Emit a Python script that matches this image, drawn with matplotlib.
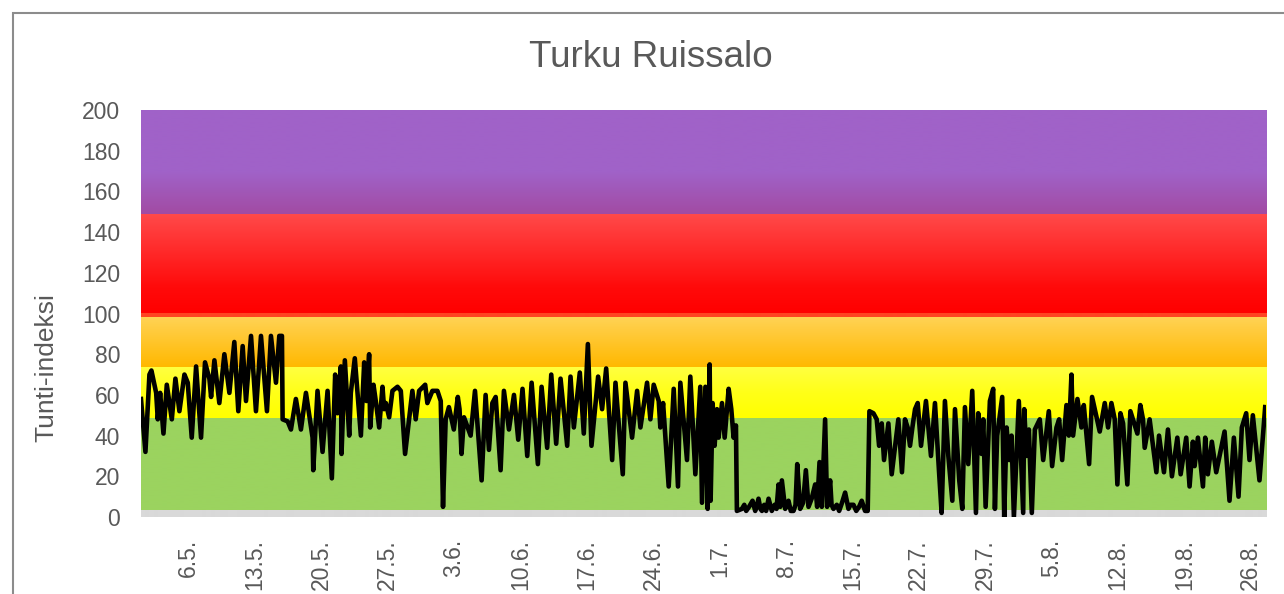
import matplotlib
matplotlib.use('Agg')
import matplotlib.pyplot as plt
import matplotlib.dates as mdates
from matplotlib.colors import LinearSegmentedColormap
from matplotlib.patches import Rectangle
import numpy as np
import pandas as pd

plt.rcParams['font.family'] = ['Liberation Sans', 'DejaVu Sans']

## Tunti-indeksi, paivia alkaen 1.5. klo 00
paiva = [
    0.0, 0.47, 0.89, 1.1, 1.6, 1.77, 2.02, 2.37, 2.72, 3.25, 3.63, 4.05, 4.58, 4.93, 5.35,
    5.81, 6.33, 6.75, 7.21, 7.39, 7.74, 8.26, 8.79, 9.32, 9.84, 10.26, 10.72, 11.07, 11.6,
    12.12, 12.65, 13.28, 13.7, 14.23, 14.58, 14.86, 14.93, 15.46, 15.81, 16.33, 16.86,
    17.39, 18.09, 18.16, 18.61, 19.14, 19.67, 20.12,
    20.47, 20.72, 21.07, 21.14, 21.49, 21.95, 22.12, 22.54, 23.18, 23.53, 23.77, 24.05,
    24.16, 24.51, 24.75, 25.11, 25.46, 25.63, 25.81, 26.16, 26.51, 27.04, 27.39, 27.84,
    28.61, 28.96, 29.32, 29.96, 30.19, 30.72, 31.25, 31.6, 31.84, 32.12, 32.46, 32.98,
    33.4, 33.58, 33.79, 34.05, 34.75, 35.21, 35.91, 36.33, 36.68, 37.04, 37.39, 37.91,
    38.26, 38.79, 39.32, 39.77,
    40.22, 40.72, 41.18, 41.84, 42.23, 42.82, 43.25, 43.77, 44.23, 44.93, 45.28, 45.63,
    46.26, 46.68, 47.11, 47.49, 48.19, 48.61, 49.04, 49.67, 50.02, 50.79, 51.07, 51.77,
    52.3, 52.65, 53.35, 53.7, 54.05, 54.58, 54.75, 55.04, 55.63, 56.16, 56.61, 56.86,
    57.56, 57.91, 58.44, 58.96, 59.14, 59.5, 59.74, 59.95,
    60.05, 60.26, 60.47, 60.72, 60.89, 61.25, 61.53, 61.95, 62.23, 62.47, 62.72, 62.82,
    63.35, 63.6, 63.8, 64.1, 64.47, 64.75, 64.95, 65.1, 65.3, 65.46, 65.7, 65.9, 66.16,
    66.5, 66.8, 67.0, 67.21, 67.39, 67.56, 67.91, 68.26, 68.5, 68.79, 69.0, 69.18, 69.49,
    69.8, 70.09, 70.37, 70.7, 71.07, 71.28, 71.53, 71.77, 72.12, 72.33, 72.65, 72.8,
    73.0, 73.35, 73.6, 73.9, 74.23, 74.58, 74.8, 75.11, 75.4, 75.7, 75.98, 76.33, 76.61,
    76.79, 77.21, 77.56, 77.81, 78.09, 78.33, 78.79, 79.14, 79.84,
    80.22, 80.54, 80.82, 81.07, 81.32, 81.6, 81.88, 82.23, 82.75, 83.28, 83.7, 84.12,
    84.4, 84.75, 85.11, 85.53, 85.81, 86.26, 86.58, 86.86, 87.21, 87.63, 88.02, 88.26,
    88.61, 88.79, 89.04, 89.49, 89.84, 90.02, 90.26, 90.79, 91.0, 91.25, 91.53, 91.77,
    92.02, 92.54, 93.0, 93.11, 93.35, 93.6, 93.91, 94.23, 94.75, 95.11, 95.7, 96.05,
    96.51, 96.79, 97.11, 97.56, 97.81, 98.09, 98.26, 98.72, 99.14, 99.39, 99.95,
    100.26, 101.07, 101.6, 101.95, 102.3, 102.65, 102.93, 103.25, 103.53, 103.98, 104.3,
    105.04, 105.35, 105.63, 105.81, 106.33, 107.04, 107.32, 107.84, 108.26, 108.68,
    109.25, 109.6, 110.19, 110.54, 110.89, 111.07, 111.42, 111.95, 112.19, 112.47,
    112.89, 113.35, 114.23, 114.75, 115.21, 115.7, 116.05, 116.51, 116.86, 117.21,
    117.91, 118.51,
]
indeksi = [
    58, 32, 70, 72, 61, 48, 61, 41, 65, 48, 68, 52, 70, 66, 39,
    74, 39, 76, 68, 59, 77, 56, 80, 61, 86, 52, 84, 57, 89,
    52, 89, 52, 89, 66, 89, 89, 48, 47, 43, 58, 43,
    61, 39, 23, 62, 32, 62, 19,
    70, 51, 74, 31, 77, 40, 61, 78, 40, 76, 57, 80,
    44, 65, 57, 44, 64, 53, 56, 49, 62, 64, 62, 31,
    62, 48, 62, 65, 56, 62, 62, 57, 5, 48, 54, 43,
    59, 53, 31, 49, 40, 62, 18, 60, 33, 56, 59, 23,
    62, 43, 60, 38,
    63, 30, 66, 26, 64, 34, 70, 36, 68, 35, 69, 44,
    71, 41, 85, 35, 69, 53, 73, 28, 66, 21, 66, 39,
    62, 44, 66, 48, 65, 57, 44, 56, 15, 63, 15, 66,
    28, 69, 21, 64, 7, 64, 4, 75,
    8, 56, 35, 53, 39, 56, 39, 63, 53, 39, 45, 3,
    4, 6, 3, 5, 8, 3, 6, 9, 4, 3, 6, 3, 9,
    3, 6, 4, 16, 5, 18, 4, 8, 3, 3, 6, 26, 4,
    7, 23, 5, 9, 16, 5, 27, 5, 48, 5, 18, 6,
    4, 6, 3, 7, 12, 4, 6, 6, 3, 5, 8, 3, 3,
    52, 51, 48, 35, 46, 28, 46, 21, 48,
    22, 48, 44, 35, 44, 53, 56, 35, 57, 30, 56, 23,
    2, 57, 30, 8, 53, 18, 4, 54, 26, 62, 2, 51,
    31, 48, 5, 57, 63, 4, 40, 59, 0, 44, 28, 40,
    0, 57, 2, 53, 30, 43, 2, 43, 48, 28, 52, 25,
    44, 48, 28, 55, 40, 70, 40, 58, 44, 55, 26,
    59, 42, 56, 44, 56, 48, 16, 51, 46, 16, 52,
    41, 55, 48, 34, 48, 22, 40, 22, 43, 20,
    39, 21, 39, 15, 37, 25, 39, 15, 39, 21,
    37, 22, 42, 8, 39, 10, 44, 51, 28, 50,
    18, 54,
]

## Taustan luokat (ala, yla, liukuvari alhaalta ylos)
luokka_ala = [0, 3.5, 48.5, 73.5, 98.5, 100.2, 149]
luokka_yla = [3.5, 48.5, 73.5, 98.5, 100.2, 149, 200]
luokka_vari = [
    [(0, '#D9D9D9'), (1, '#D9D9D9')],
    [(0, '#9BD35F'), (1, '#9BD35F')],
    [(0, '#FFFF00'), (0.5, '#FFFF18'), (1, '#FFFF40')],
    [(0, '#FFB800'), (1, '#FFD356')],
    [(0, '#FF4422'), (1, '#FF4422')],
    [(0, '#FF0000'), (0.25, '#FF0A0A'), (1, '#FF4A4A')],
    [(0, '#A24BA3'), (0.4, '#A062C8'), (1, '#A062C8')],
]

alku = pd.Timestamp('2019-05-01')
loppu = alku + pd.Timedelta(days=118.6)
aika = (alku + pd.to_timedelta(paiva, unit='D')).to_pydatetime()
tikit = pd.date_range('2019-05-06', '2019-08-26', freq='7D')

harmaa = '#595959'

fig = plt.figure(figsize=(12.84, 5.94), dpi=100)
ax = fig.add_axes([0.1098, 0.1296, 0.8762, 0.6852])

x0 = mdates.date2num(alku)
x1 = mdates.date2num(loppu)
grad = np.linspace(0, 1, 128).reshape(-1, 1)
for ala, yla, varit in zip(luokka_ala, luokka_yla, luokka_vari):
    cmap = LinearSegmentedColormap.from_list('luokka', varit)
    ax.imshow(grad, extent=(x0, x1, ala, yla), origin='lower', aspect='auto',
              cmap=cmap, interpolation='bilinear', zorder=0)

ax.plot(aika, indeksi, color='black', lw=3.3, solid_joinstyle='round', zorder=3)

ax.set_xlim(x0, x1)
ax.set_ylim(0, 200)
ax.set_aspect('auto')
ax.set_yticks(range(0, 201, 20))
ax.set_xticks(mdates.date2num(tikit))
ax.set_xticklabels([f"{d.day}.{d.month}." for d in tikit], rotation=90)
ax.tick_params(axis='y', length=0, pad=15, labelsize=16.5, labelcolor=harmaa)
ax.tick_params(axis='x', length=0, pad=16, labelsize=16.5, labelcolor=harmaa)
for s in ax.spines.values():
    s.set_visible(False)

fig.text(0.036, 0.382, 'Tunti-indeksi', rotation=90, ha='center', va='center',
         fontsize=19, color=harmaa)
fig.text(0.507, 0.904, 'Turku Ruissalo', ha='center', va='center',
         fontsize=26.5, color=harmaa)

# kaavion kehys (oikea ja ala reuna rajautuvat kuvan ulkopuolelle)
fig.patches.append(Rectangle((13 / 1284, -0.5), 2, 0.978 + 0.5, transform=fig.transFigure,
                             fill=False, ec='#8C8C8C', lw=1.5))

plt.savefig('out.png', dpi=100)
